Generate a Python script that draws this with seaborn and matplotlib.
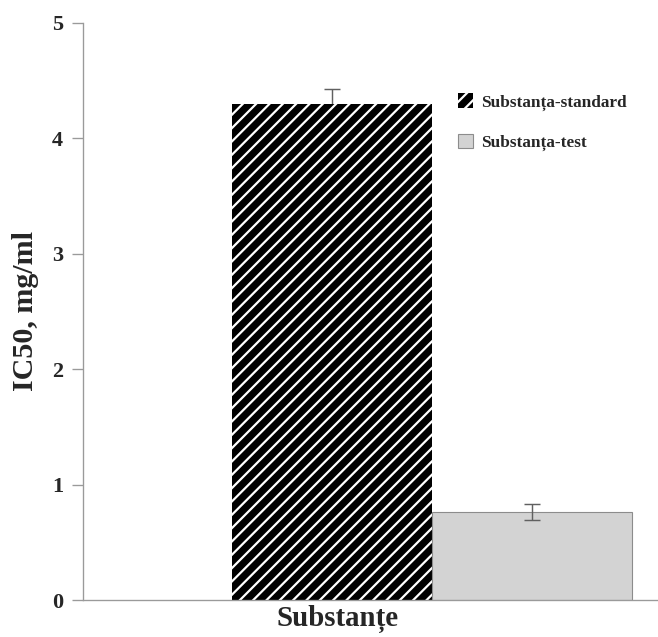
import matplotlib

matplotlib.use("Agg")

import matplotlib.pyplot as plt
import matplotlib.patches as mpatches
import pandas as pd
import seaborn as sns

# data
GROUP = "Substanțe"
SUBSTANCES = ["Substanța-standard", "Substanța-test"]
IC50 = [4.30, 0.76]
IC50_ERR = [0.13, 0.07]
Y_TICKS = [0, 1, 2, 3, 4, 5]

BAR_COLORS = ["#000000", "#d3d3d3"]
AXIS_GRAY = "#9a9a9a"
DPI = 80

sns.set_theme(style="white")
plt.rcParams["font.family"] = ["Liberation Serif", "DejaVu Serif"]
plt.rcParams["font.weight"] = "bold"
plt.rcParams["hatch.linewidth"] = 2.0

df = pd.DataFrame({"grup": [GROUP] * len(SUBSTANCES),
                   "substanta": SUBSTANCES,
                   "ic50": IC50})

fig = plt.figure(figsize=(658 / DPI, 637 / DPI), dpi=DPI)
ax = fig.add_axes([83 / 658, 37 / 637, 575 / 658, 577 / 637])

sns.barplot(data=df, x="grup", y="ic50", hue="substanta",
            palette=BAR_COLORS, width=0.8, errorbar=None,
            legend=False, ax=ax)

bars = ax.patches[:len(SUBSTANCES)]
# hatched black bar, plain grey bar
bars[0].set_hatch("//")
bars[0].set_edgecolor("white")
bars[0].set_linewidth(0)
bars[1].set_edgecolor("#8c8c8c")
bars[1].set_linewidth(1.0)

# lower half of the first error bar disappears into the black bar
for bar, val, err, z in zip(bars, IC50, IC50_ERR, [0.5, 3]):
    ax.errorbar(bar.get_x() + bar.get_width() / 2, val, yerr=err,
                fmt="none", ecolor="#606060", elinewidth=1.3,
                capsize=7, capthick=1.3, zorder=z)

ax.set_xlim(-0.698, 0.452)
ax.set_ylim(0, 5)
ax.set_yticks(Y_TICKS)
ax.set_yticklabels([str(t) for t in Y_TICKS], fontsize=20, fontweight="bold")
ax.set_xticks([])
ax.set_xlabel("")
ax.set_ylabel("IC50, mg/ml", fontsize=27, fontweight="bold", labelpad=12)
ax.text(0.442, -0.033, GROUP, transform=ax.transAxes, ha="center",
        va="center", fontsize=26, fontweight="bold")

for side in ["top", "right"]:
    ax.spines[side].set_visible(False)
for side in ["left", "bottom"]:
    ax.spines[side].set_color(AXIS_GRAY)
    ax.spines[side].set_linewidth(1.2)
ax.tick_params(axis="y", which="major", direction="out", length=10,
               width=1.2, color=AXIS_GRAY, left=True, pad=8)

handles = [
    mpatches.Patch(facecolor=BAR_COLORS[0], edgecolor="white", hatch="//",
                   linewidth=0, label=SUBSTANCES[0]),
    mpatches.Patch(facecolor=BAR_COLORS[1], edgecolor="#8c8c8c",
                   linewidth=1.0, label=SUBSTANCES[1]),
]
ax.legend(handles=handles, loc="upper left", bbox_to_anchor=(0.625, 0.905),
          frameon=False, prop={"size": 15.5, "weight": "bold"},
          handlelength=0.9, handleheight=0.9, handletextpad=0.45,
          labelspacing=1.35)

fig.savefig("out.png", dpi=DPI)
plt.close(fig)
